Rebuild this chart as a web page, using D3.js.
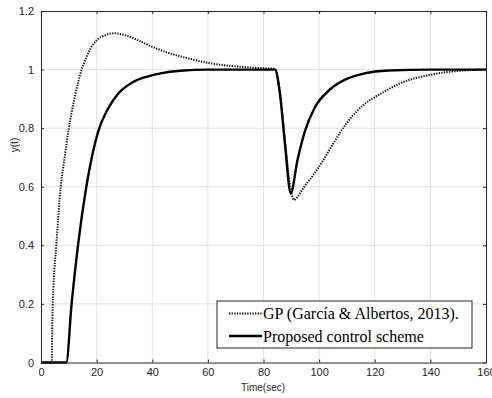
<!DOCTYPE html>
<html><head><meta charset="utf-8">
<script src="https://cdn.jsdelivr.net/npm/d3@7"></script>
<style>body{margin:0;background:#fff}svg{display:block}</style>
</head><body>
<svg id="c" width="492" height="398"></svg>
<script>
const xTicks = [0,20,40,60,80,100,120,140,160];
const yTicks = [0,0.2,0.4,0.6,0.8,1,1.2];
const legendLabels = ["GP (García & Albertos, 2013).", "Proposed control scheme"];

const gpT = [0,3.85,4.1,4.5,5.5,7.1,8.5,10,12,14.6,16,18,20,23,26.3,30,35.6,38.5,42,47.5,53,59.5,65,71.5,77,84.1,85.9,87.7,89.6,91,92.2,94.3,97.9,101.5,105.1,109.9,115.9,121.9,129.1,139.9,150.7,160];
const gpY = [0,0,0.15,0.26,0.4,0.6,0.7,0.8,0.9,1.0,1.035,1.075,1.1,1.117,1.124,1.118,1.097,1.084,1.07,1.052,1.038,1.024,1.016,1.01,1.006,1.002,0.925,0.76,0.6,0.555,0.565,0.595,0.64,0.691,0.748,0.817,0.879,0.916,0.953,0.982,0.996,1.0];

const psT = [0,9.1,11,13.3,16.3,20.6,24,27.5,33,38.5,43,50,60,70,84.1,85.9,87.7,89.8,92.2,94.9,98.3,103.9,109.9,115.9,125,140,160];
const psY = [0,0,0.2,0.4,0.6,0.79,0.865,0.915,0.957,0.977,0.987,0.996,1.0,1.0,1.0,0.918,0.748,0.578,0.69,0.79,0.868,0.932,0.968,0.986,0.997,1.0,1.0];

const svg = d3.select("#c");
const L=41, R=486, T=11, B=362.5;
const x = d3.scaleLinear().domain([0,160]).range([L,R]);
const y = d3.scaleLinear().domain([0,1.2]).range([B,T]);

// grid
const g = svg.append("g");
g.selectAll("line.gx").data(xTicks.slice(1,-1)).join("line")
  .attr("x1",d=>x(d)).attr("x2",d=>x(d)).attr("y1",T).attr("y2",B)
  .attr("stroke","#e3e3e3").attr("stroke-width",1);
g.selectAll("line.gy").data(yTicks.slice(1,-1)).join("line")
  .attr("y1",d=>y(d)).attr("y2",d=>y(d)).attr("x1",L).attr("x2",R)
  .attr("stroke","#e3e3e3").attr("stroke-width",1);

// lines
const line = d3.line().curve(d3.curveMonotoneX);
const gpPts = gpT.map((t,i)=>[x(t),y(gpY[i])]);
const psPts = psT.map((t,i)=>[x(t),y(psY[i])]);
svg.append("path").attr("d",line(gpPts)).attr("fill","none")
  .attr("stroke","#111").attr("stroke-width",2).attr("stroke-dasharray","1.3,1.3");
svg.append("path").attr("d",line(psPts)).attr("fill","none")
  .attr("stroke","#000").attr("stroke-width",2.4);

// axes
const fmt = d=>String(d);
const ax = svg.append("g").attr("transform",`translate(0,${B})`)
  .call(d3.axisBottom(x).tickValues(xTicks).tickSizeInner(-3).tickSizeOuter(0).tickFormat(fmt));
const axT = svg.append("g").attr("transform",`translate(0,${T})`)
  .call(d3.axisTop(x).tickValues(xTicks).tickSizeInner(-3).tickSizeOuter(0).tickFormat(""));
const ay = svg.append("g").attr("transform",`translate(${L},0)`)
  .call(d3.axisLeft(y).tickValues(yTicks).tickSizeInner(-3).tickSizeOuter(0).tickFormat(fmt));
const ayR = svg.append("g").attr("transform",`translate(${R},0)`)
  .call(d3.axisRight(y).tickValues(yTicks).tickSizeInner(-3).tickSizeOuter(0).tickFormat(""));
[ax,axT,ay,ayR].forEach(a=>{
  a.select(".domain").attr("stroke","#262626").attr("stroke-width",1);
  a.selectAll(".tick line").attr("stroke","#262626");
  a.selectAll("text").attr("fill","#262626").attr("font-family","Liberation Sans, Arial, sans-serif").attr("font-size",11);
});
ax.selectAll("text").attr("dy","0.71em").attr("y",6);
ay.selectAll("text").attr("x",-7);

svg.append("text").attr("x",263).attr("y",391).attr("text-anchor","middle")
  .attr("font-family","Liberation Sans, Arial, sans-serif").attr("font-size",10).attr("fill","#262626")
  .text("Time(sec)");
svg.append("text").attr("transform","translate(18,145) rotate(-90)").attr("text-anchor","middle")
  .attr("font-family","Liberation Sans, Arial, sans-serif").attr("font-size",10).attr("fill","#262626")
  .text("y(t)");

// legend
const lg = svg.append("g");
lg.append("rect").attr("x",217).attr("y",301).attr("width",255).attr("height",47)
  .attr("fill","#fff").attr("stroke","#262626").attr("stroke-width",1);
const rows=[313.5,336];
lg.append("line").attr("x1",229).attr("x2",262).attr("y1",rows[0]).attr("y2",rows[0])
  .attr("stroke","#111").attr("stroke-width",2).attr("stroke-dasharray","1.3,1.3");
lg.append("line").attr("x1",229).attr("x2",262).attr("y1",rows[1]).attr("y2",rows[1])
  .attr("stroke","#000").attr("stroke-width",2.4);
legendLabels.forEach((s,i)=>{
  lg.append("text").attr("x",263).attr("y",rows[i]).attr("dy","0.35em")
    .attr("font-family","Liberation Serif, Times New Roman, serif").attr("font-size",16).attr("fill","#000")
    .text(s);
});
</script>
</body></html>
